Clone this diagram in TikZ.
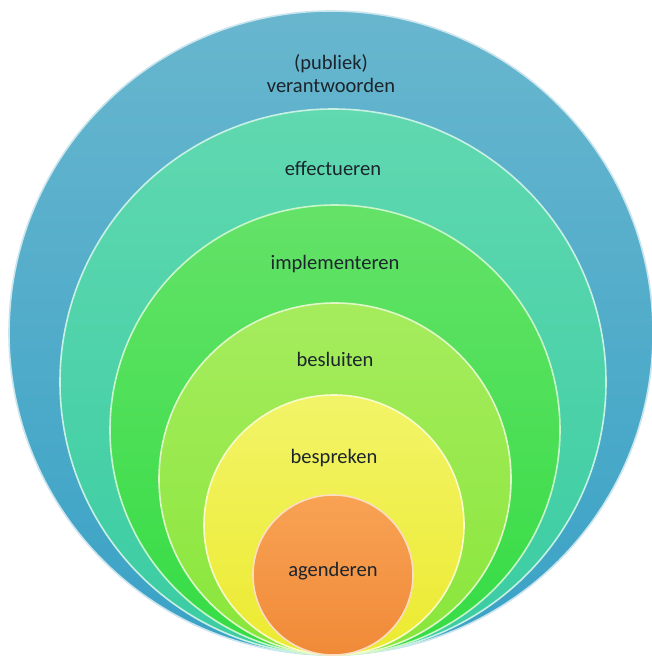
\documentclass[tikz,border=0pt]{standalone}
\usepackage{fontspec}
\setmainfont{Carlito}
\usetikzlibrary{positioning}
\definecolor{bluetop}{RGB}{104,182,206}
\definecolor{bluebot}{RGB}{58,162,198}
\definecolor{tealtop}{RGB}{96,216,176}
\definecolor{tealbot}{RGB}{58,204,162}
\definecolor{greentop}{RGB}{100,226,104}
\definecolor{greenbot}{RGB}{52,220,68}
\definecolor{limetop}{RGB}{166,236,94}
\definecolor{limebot}{RGB}{136,230,58}
\definecolor{yellowtop}{RGB}{242,244,104}
\definecolor{yellowbot}{RGB}{236,234,48}
\definecolor{orangetop}{RGB}{248,162,84}
\definecolor{orangebot}{RGB}{240,138,56}
\definecolor{txt}{RGB}{28,36,44}
\begin{document}
\begin{tikzpicture}[x=0.75pt, y=-0.75pt,
  ring/.style = {circle, inner sep=0pt, minimum size=#1*1.5pt, line width=1.2pt},
  word/.style = {text=txt, align=center, inner sep=0pt,
    font=\fontsize{15.4}{17.5}\selectfont}]
  \useasboundingbox (0,0) rectangle (652,660);
  % nested rings, all touching at the bottom
  \node[ring=322, top color=bluetop, bottom color=bluebot, draw=white!65!bluetop] (verantw) at (331,333) {};
  \node[ring=273, top color=tealtop, bottom color=tealbot, draw=white!65!tealtop] (effect) at (333,382) {};
  \node[ring=225, top color=greentop, bottom color=greenbot, draw=white!65!greentop] (implem) at (335,430) {};
  \node[ring=176, top color=limetop, bottom color=limebot, draw=white!65!limetop] (besluit) at (335,479) {};
  \node[ring=130, top color=yellowtop, bottom color=yellowbot, draw=white!65!yellowtop] (bespreek) at (334,525) {};
  \node[ring=80, top color=orangetop, bottom color=orangebot, draw=white!65!orangetop] (agenda) at (333,575) {};
  % labels
  \node[word] (t1) at ([yshift=-47.5pt]verantw.north) {(publiek)\\verantwoorden};
  \node[word] (t2) at ([yshift=-45pt]effect.north) {effectueren};
  \node[word] (t3) at ([yshift=-44.8pt]implem.north) {implementeren};
  \node[word] (t4) at ([yshift=-43pt]besluit.north) {besluiten};
  \node[word] (t5) at ([yshift=-47.5pt]bespreek.north) {bespreken};
  \node[word] (t6) at ([yshift=3pt]agenda.center) {agenderen};
\end{tikzpicture}
\end{document}
